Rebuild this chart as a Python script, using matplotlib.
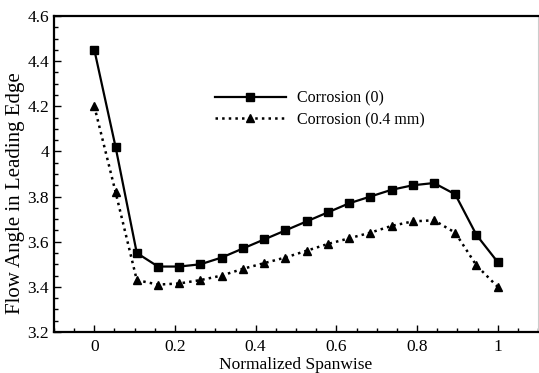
import matplotlib
matplotlib.use("Agg")
import matplotlib.pyplot as plt
from matplotlib.ticker import MultipleLocator

plt.rcParams['font.family'] = ['Liberation Serif', 'DejaVu Serif']

x = [i / 19 for i in range(20)]
corr0 = [4.45, 4.02, 3.55, 3.49, 3.49, 3.50, 3.53, 3.57, 3.61, 3.65,
         3.69, 3.73, 3.77, 3.80, 3.83, 3.85, 3.86, 3.81, 3.63, 3.51]
corr04 = [4.20, 3.82, 3.43, 3.41, 3.415, 3.43, 3.45, 3.48, 3.505, 3.53,
          3.56, 3.59, 3.615, 3.64, 3.67, 3.69, 3.695, 3.64, 3.495, 3.40]

fig = plt.figure(figsize=(5.39, 3.73), dpi=100)
ax = fig.add_axes([54/539, 41/373, 484/539, 316/373])

ax.plot(x, corr0, '-', color='black', lw=1.6, marker='s', ms=6, label='Corrosion (0)')
ax.plot(x, corr04, ':', color='black', lw=1.8, marker='^', ms=6, label='Corrosion (0.4 mm)')

ax.set_xlim(-0.1, 1.1)
ax.set_ylim(3.2, 4.6)
ax.xaxis.set_minor_locator(MultipleLocator(0.05))
ax.yaxis.set_minor_locator(MultipleLocator(0.05))
ax.set_xticks([0, 0.2, 0.4, 0.6, 0.8, 1.0])
ax.set_xticklabels(['0', '0.2', '0.4', '0.6', '0.8', '1'])
ax.set_yticks([3.2, 3.4, 3.6, 3.8, 4.0, 4.2, 4.4, 4.6])
ax.set_yticklabels(['3.2', '3.4', '3.6', '3.8', '4', '4.2', '4.4', '4.6'])
ax.tick_params(which='both', direction='in', top=False, right=False, labelsize=12.5)
ax.tick_params(axis='x', pad=5)
ax.tick_params(axis='y', pad=3.5)
ax.tick_params(which='major', length=5, width=1)
ax.tick_params(which='minor', length=3, width=1)

for s in ['left', 'bottom', 'top']:
    ax.spines[s].set_linewidth(1.6)
ax.spines['right'].set_color('#cccccc')
ax.spines['right'].set_linewidth(0.8)

fig.text(296/539, 4/373, 'Normalized Spanwise', fontsize=12.5, ha='center', va='baseline')
fig.text(16/539, 1 - 193/373, 'Flow Angle in Leading Edge', fontsize=15, rotation=90,
         ha='center', va='center')

ax.legend(loc='upper left', bbox_to_anchor=(0.32, 0.785), frameon=False, fontsize=11.5,
          handlelength=4.4, handletextpad=0.7, labelspacing=0.35, borderaxespad=0)

fig.savefig('out.png', dpi=100)
